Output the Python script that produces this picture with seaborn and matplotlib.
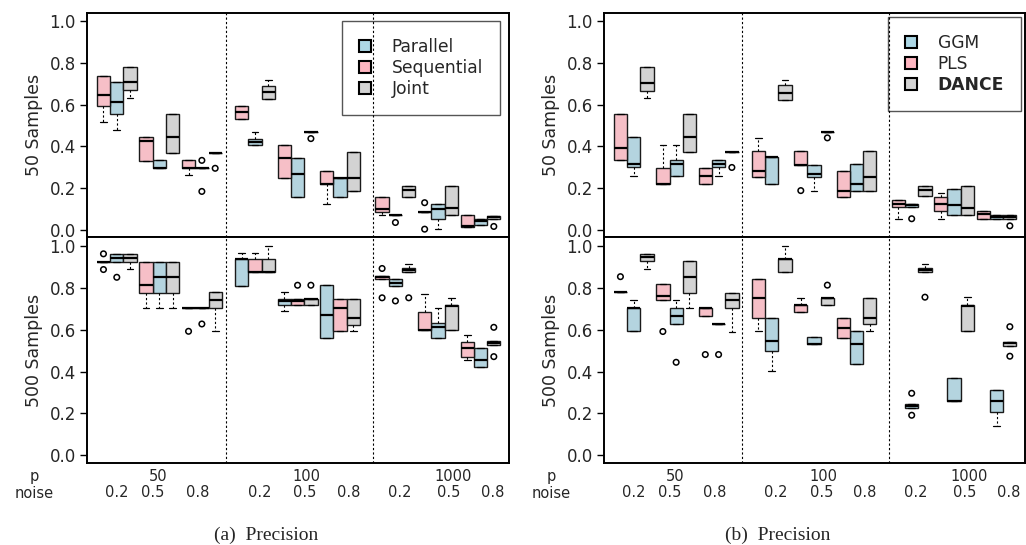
import matplotlib
matplotlib.use("Agg")
import matplotlib.pyplot as plt
import seaborn as sns
import numpy as np
import pandas as pd
from matplotlib.patches import Patch
from matplotlib.transforms import blended_transform_factory

# Group labels (p x noise)
P_LABELS = ["50", "100", "1000"]
NOISE_LABELS = ["0.2", "0.5", "0.8", "0.2", "0.5", "0.8", "0.2", "0.5", "0.8"]

# Box summaries: [lower whisker, q1, median, q3, upper whisker]
# one entry per (p, noise) group, None = method not run
A_TOP_PARALLEL = [
    [.48, .556, .611, .707, .707], [.295, .295, .295, .333, .333], [.295, .295, .295, .295, .295],
    [.405, .405, .421, .4375, .47], [.155, .155, .266, .345, .345], [.155, .155, .25, .25, .25],
    [.069, .069, .069, .069, .069], [.003, .051, .098, .123, .123], [.022, .022, .042, .054, .054],
]
A_TOP_SEQUENTIAL = [
    [.518, .593, .649, .74, .74], [.332, .332, .425, .446, .446], [.261, .295, .295, .333, .333],
    [.53, .53, .564, .595, .595], [.248, .248, .345, .405, .405], [.125, .22, .22, .282, .282],
    [.069, .087, .099, .157, .157], [.087, .087, .087, .087, .087], [.013, .013, .016, .069, .069],
]
A_TOP_JOINT = [
    [.631, .67, .707, .779, .779], [.37, .37, .446, .556, .556], [.37, .37, .37, .37, .37],
    [.627, .627, .659, .6875, .72], [.47, .47, .47, .47, .47], [.186, .186, .25, .375, .375],
    [.157, .157, .189, .212, .212], [.069, .069, .106, .212, .212], [.051, .051, .061, .067, .067],
]
A_TOP_OUTLIERS = [("Parallel", 2, .333), ("Parallel", 2, .184), ("Joint", 2, .295),
                  ("Joint", 4, .4375), ("Parallel", 6, .035), ("Sequential", 7, .13),
                  ("Sequential", 7, .003), ("Joint", 8, .016)]

A_BOT_PARALLEL = [
    [.925, .925, .943, .962, .962], [.702, .777, .85, .924, .924], [.702, .702, .702, .702, .702],
    [.81, .81, .935, .935, .967], [.688, .717, .736, .745, .78], [.562, .562, .67, .811, .811],
    [.806, .806, .822, .841, .841], [.561, .561, .611, .631, .701], [.42, .42, .455, .51, .51],
]
A_BOT_SEQUENTIAL = [
    [.925, .925, .925, .925, .925], [.702, .777, .814, .924, .924], [.702, .702, .702, .702, .702],
    [.874, .874, .874, .935, .967], [.717, .717, .736, .745, .745], [.594, .594, .701, .745, .745],
    [.842, .842, .85, .858, .858], [.596, .596, .596, .683, .771], [.455, .471, .51, .543, .576],
]
A_BOT_JOINT = [
    [.889, .925, .943, .962, .962], [.702, .777, .85, .924, .924], [.592, .702, .74, .779, .779],
    [.874, .874, .874, .935, 1.0], [.717, .717, .745, .745, .745], [.594, .624, .656, .745, .745],
    [.876, .876, .885, .893, .912], [.596, .596, .713, .72, .753], [.525, .525, .535, .545, .545],
]
A_BOT_OUTLIERS = [("Sequential", 0, .962), ("Sequential", 0, .887), ("Parallel", 0, .85),
                  ("Sequential", 2, .592), ("Parallel", 2, .627), ("Sequential", 4, .812),
                  ("Joint", 4, .812), ("Sequential", 6, .892), ("Sequential", 6, .752),
                  ("Parallel", 6, .737), ("Joint", 6, .752), ("Joint", 8, .611), ("Joint", 8, .471)]

B_TOP_GGM = [
    [.26, .299, .316, .446, .446], [.26, .26, .316, .334, .409], [.26, .299, .316, .334, .334],
    [.22, .22, .347, .347, .347], [.188, .251, .267, .313, .313], [.188, .188, .22, .315, .315],
    [.109, .109, .117, .125, .125], [.073, .073, .121, .195, .195], [.054, .054, .061, .069, .069],
]
B_TOP_PLS = [
    [.334, .334, .391, .556, .556], [.222, .222, .222, .297, .409], [.222, .222, .26, .297, .297],
    [.251, .251, .283, .377, .441], [.313, .313, .313, .377, .377], [.157, .157, .188, .283, .283],
    [.053, .109, .125, .141, .141], [.053, .089, .123, .157, .177], [.054, .054, .077, .089, .089],
]
B_TOP_DANCE = [
    [.631, .668, .706, .78, .78], [.372, .372, .446, .556, .556], [.372, .372, .372, .372, .372],
    [.625, .625, .658, .693, .72], [.471, .471, .471, .471, .471], [.188, .188, .251, .377, .377],
    [.16, .16, .192, .212, .212], [.073, .073, .105, .212, .212], [.054, .054, .061, .069, .069],
]
B_TOP_OUTLIERS = [("DANCE", 2, .299), ("PLS", 4, .188), ("DANCE", 4, .441),
                  ("GGM", 6, .053), ("DANCE", 8, .019)]

B_BOT_GGM = [
    [.595, .595, .705, .705, .74], [.628, .628, .665, .704, .74], [.628, .628, .628, .628, .628],
    [.404, .498, .546, .654, .654], [.53, .53, .53, .5625, .5625], [.436, .436, .53, .593, .593],
    [.226, .226, .236, .245, .245], [.26, .26, .26, .369, .369], [.138, .208, .26, .314, .314],
]
B_BOT_PLS = [
    [.779, .779, .779, .779, .779], [.74, .74, .76, .816, .816], [.665, .665, .704, .704, .704],
    [.593, .654, .75, .843, .843], [.686, .686, .718, .718, .75], [.561, .561, .609, .654, .654],
    None, None, None,
]
B_BOT_DANCE = [
    [.889, .926, .946, .962, .962], [.704, .777, .853, .926, .926], [.591, .704, .74, .777, .777],
    [.875, .875, .938, .938, 1.0], [.718, .718, .75, .75, .75], [.593, .625, .654, .75, .75],
    [.877, .877, .886, .896, .915], [.595, .595, .712, .718, .755], [.524, .524, .534, .543, .543],
]
B_BOT_OUTLIERS = [("PLS", 0, .853), ("PLS", 1, .591), ("GGM", 1, .444), ("PLS", 2, .481),
                  ("GGM", 2, .481), ("DANCE", 4, .8125), ("GGM", 6, .296), ("GGM", 6, .191),
                  ("DANCE", 6, .755), ("DANCE", 8, .614), ("DANCE", 8, .473)]

# Left-to-right order of the three boxes inside each group
SPJ = ["Sequential", "Parallel", "Joint"]
PSJ = ["Parallel", "Sequential", "Joint"]
A_TOP_ORDER = [SPJ] * 9
A_BOT_ORDER = [SPJ] * 3 + [PSJ] * 3 + [SPJ] * 3
B_ORDER = [["PLS", "GGM", "DANCE"]] * 9

BLUE, PINK, GREY = "#ADD8E6", "#FFB6C1", "#D3D3D3"

# layout of the x axis
GROUP_POS = [0, 1, 2, 3.25, 4.25, 5.25, 6.55, 7.55, 8.55]
SLOT_W = 0.313
XLIM = (-0.7, 9.22)
DIVIDERS = [2.56, 6.02]
NOISE_POS = [0.0, 0.85, 1.9, 3.35, 4.42, 5.45, 6.65, 7.8, 8.83]
P_POS = [0.97, 4.47, 7.91]

sns.set_theme(style="ticks")
plt.rcParams["font.family"] = ["DejaVu Sans"]

W, H = 1026, 545
fig = plt.figure(figsize=(W / 100, H / 100), dpi=100)


def px_axes(left, right, top, bottom):
    return fig.add_axes([left / W, 1 - bottom / H, (right - left) / W, (bottom - top) / H])


def draw_row(ax, stats, order, outliers, palette):
    rows = []
    for method, boxes in stats.items():
        for g, five in enumerate(boxes):
            if five is None:
                continue
            x = round(GROUP_POS[g] + (order[g].index(method) - 1) * SLOT_W, 4)
            for v in five:
                rows.append({"x": x, "value": v, "method": method})
    df = pd.DataFrame(rows)
    sns.boxplot(
        data=df, x="x", y="value", hue="method", hue_order=list(stats),
        palette=palette, native_scale=True, dodge=False, width=1.0,
        whis=np.inf, showfliers=False, linecolor="#1a1a1a", linewidth=1.0,
        medianprops=dict(color="black", linewidth=1.6),
        whiskerprops=dict(linestyle=(0, (2, 2)), linewidth=0.8, color="black"),
        capprops=dict(linewidth=0.9, color="black"),
        legend=False, ax=ax,
    )
    ox = [round(GROUP_POS[g] + (order[g].index(m) - 1) * SLOT_W, 4) for m, g, _ in outliers]
    oy = [v for _, _, v in outliers]
    ax.scatter(ox, oy, s=16, facecolors="none", edgecolors="black", linewidths=1.1, zorder=4)

    for xv in DIVIDERS:
        ax.axvline(xv, color="black", linestyle=(0, (2, 2)), linewidth=0.8, zorder=6)
    ax.set_xlim(*XLIM)
    ax.set_ylim(-0.037, 1.04)
    ax.set_yticks(np.arange(0, 1.01, 0.2))
    ax.set_yticklabels([f"{t:.1f}" for t in np.arange(0, 1.01, 0.2)])
    ax.tick_params(axis="y", direction="out", length=5, width=1, pad=3, labelsize=12, color="black")
    for s in ax.spines.values():
        s.set_visible(True)
        s.set_color("black")
        s.set_linewidth(1.4)
    ax.set_xlabel("")


def draw_panel(left, right, rows, legend_names, legend_anchor, caption, caption_x, bold_last):
    ax_top = px_axes(left, right, 13, 237.5)
    ax_bot = px_axes(left, right, 237.5, 463)
    palette = dict(zip(legend_names, [BLUE, PINK, GREY]))
    for ax, (stats, order, outl, ylabel) in zip([ax_top, ax_bot], rows):
        draw_row(ax, stats, order, outl, palette)
        ax.set_ylabel(ylabel, fontsize=12.5, labelpad=5)
    ax_top.set_xticks([])
    ax_bot.set_xticks(NOISE_POS, NOISE_LABELS)
    ax_bot.tick_params(axis="x", length=0, pad=16, labelsize=10.5)

    tr = blended_transform_factory(ax_bot.transData, ax_bot.transAxes)
    for xp, lab in zip(P_POS, P_LABELS):
        ax_bot.text(xp, -0.062, lab, transform=tr, ha="center", va="center", fontsize=10.5)
    ax_bot.text(-0.126, -0.062, "p", transform=ax_bot.transAxes, ha="center", va="center", fontsize=10.5)
    ax_bot.text(-0.126, -0.134, "noise", transform=ax_bot.transAxes, ha="center", va="center", fontsize=10.5)

    handles = [Patch(facecolor=palette[n], edgecolor="black", linewidth=1.5) for n in legend_names]
    leg = ax_top.legend(handles, legend_names, loc="upper left", bbox_to_anchor=legend_anchor,
                        borderaxespad=0, fontsize=12.3, handlelength=0.7, handleheight=0.7,
                        handletextpad=1.2, labelspacing=0.17, borderpad=1.0,
                        fancybox=False, framealpha=1, edgecolor="#555555")
    leg.get_frame().set_linewidth(1.0)
    if bold_last:
        leg.get_texts()[-1].set_fontweight("bold")

    fig.text(caption_x / W, 1 - 535 / H, caption, ha="center", va="center",
             fontsize=14, family="Liberation Serif")


draw_panel(
    87, 509,
    [({"Parallel": A_TOP_PARALLEL, "Sequential": A_TOP_SEQUENTIAL, "Joint": A_TOP_JOINT},
      A_TOP_ORDER, A_TOP_OUTLIERS, "50 Samples"),
     ({"Parallel": A_BOT_PARALLEL, "Sequential": A_BOT_SEQUENTIAL, "Joint": A_BOT_JOINT},
      A_BOT_ORDER, A_BOT_OUTLIERS, "500 Samples")],
    ["Parallel", "Sequential", "Joint"], (0.604, 0.964), "(a)  Precision", 266, False,
)
draw_panel(
    604, 1025,
    [({"GGM": B_TOP_GGM, "PLS": B_TOP_PLS, "DANCE": B_TOP_DANCE},
      B_ORDER, B_TOP_OUTLIERS, "50 Samples"),
     ({"GGM": B_BOT_GGM, "PLS": B_BOT_PLS, "DANCE": B_BOT_DANCE},
      B_ORDER, B_BOT_OUTLIERS, "500 Samples")],
    ["GGM", "PLS", "DANCE"], (0.675, 0.982), "(b)  Precision", 778, True,
)

fig.savefig("out.png", dpi=100)
plt.close(fig)
